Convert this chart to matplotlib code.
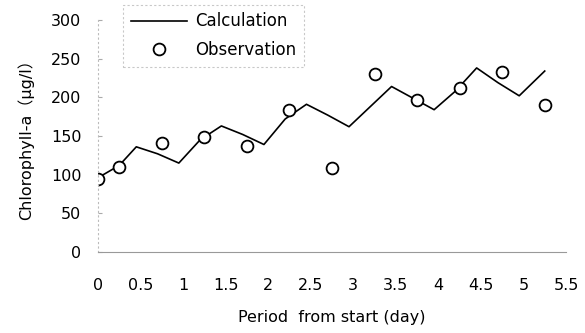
import matplotlib.pyplot as plt

plt.rcParams['font.family'] = ['DejaVu Sans', 'Noto Sans CJK JP']

# Calculation line (day, chlorophyll-a)
calc_day = [0, 0.25, 0.45, 0.7, 0.95, 1.2, 1.45, 1.7, 1.95, 2.2, 2.45, 2.7,
            2.95, 3.2, 3.45, 3.7, 3.95, 4.2, 4.45, 4.7, 4.95, 5.25]
calc_chl = [96, 112, 136, 127, 115, 145, 163, 152, 139, 172, 191, 177,
            162, 188, 214, 199, 184, 208, 238, 219, 202, 234]

# Observations
obs_day = [0, 0.25, 0.75, 1.25, 1.75, 2.25, 2.75, 3.25, 3.75, 4.25, 4.75, 5.25]
obs_chl = [95, 110, 141, 149, 137, 184, 109, 230, 197, 212, 233, 190]

xticks = [0, 0.5, 1, 1.5, 2, 2.5, 3, 3.5, 4, 4.5, 5, 5.5]
xticklabels = ['0', '0.5', '1', '1.5', '2', '2.5', '3', '3.5', '4', '4.5', '5', '5.5']
yticks = [0, 50, 100, 150, 200, 250, 300]

fig = plt.figure(figsize=(5.85, 3.33), dpi=100)
ax = fig.add_axes([98 / 585, 81 / 333, 468 / 585, 232 / 333])

ax.plot(calc_day, calc_chl, color='black', lw=1.2, label='Calculation')
ax.plot(obs_day, obs_chl, ls='none', marker='o', ms=8.5, mfc='white',
        mec='black', mew=1.3, label='Observation')

ax.set_xlim(0, 5.5)
ax.set_ylim(0, 300)
ax.set_xticks(xticks)
ax.set_xticklabels(xticklabels)
ax.set_yticks(yticks)

for s in ['top', 'right']:
    ax.spines[s].set_visible(False)
ax.spines['left'].set_color('#bbbbbb')
ax.spines['left'].set_linestyle((0, (1, 3)))
ax.spines['left'].set_linewidth(0.8)
ax.spines['bottom'].set_color('#999999')
ax.spines['bottom'].set_linewidth(0.8)

ax.tick_params(axis='y', length=3, color='#aaaaaa', direction='in', pad=12, labelsize=11.5)
ax.tick_params(axis='x', length=0, pad=19, labelsize=11.5)

ax.set_xlabel('Period  from start (day)', fontsize=11.5, labelpad=12)
ax.set_ylabel('Chlorophyll-a（μg/l）', fontsize=11.5, labelpad=12)

leg = fig.legend(loc='upper left', bbox_to_anchor=(123 / 585, 1 - 5 / 333),
                 fontsize=12, frameon=True, fancybox=False, borderaxespad=0,
                 handlelength=3.4, handletextpad=0.5, borderpad=0.45,
                 labelspacing=0.65)
leg.get_frame().set_edgecolor('#bbbbbb')
leg.get_frame().set_linestyle((0, (2, 2)))
leg.get_frame().set_linewidth(0.8)

fig.savefig('out.png', dpi=100)
